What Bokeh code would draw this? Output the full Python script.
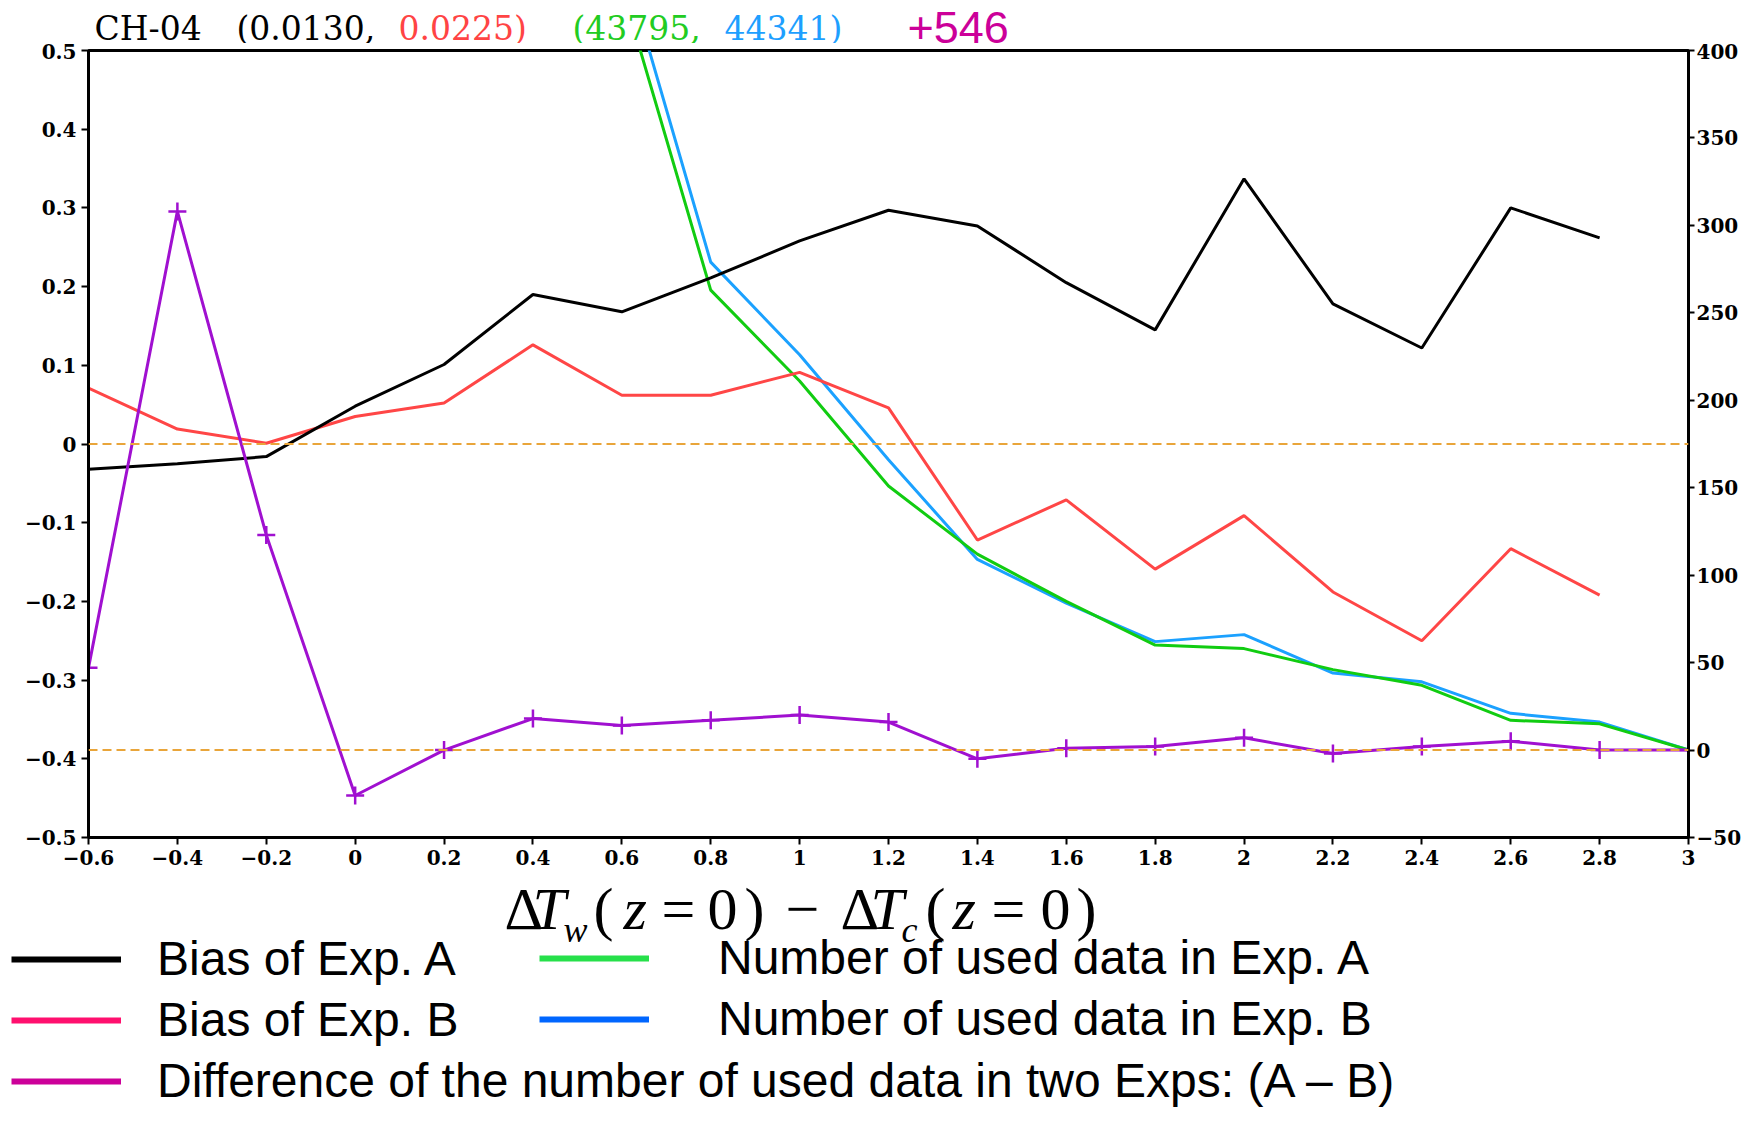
from bokeh.plotting import figure
from bokeh.layouts import column
from bokeh.models import Range1d, LinearAxis, FixedTicker, Span, Label, Legend, LegendItem
from bokeh.embed import file_html
from bokeh.resources import INLINE

nan = float("nan")

# ---------------- data ----------------
x_bins = [-0.6, -0.4, -0.2, 0.0, 0.2, 0.4, 0.6, 0.8, 1.0, 1.2, 1.4, 1.6, 1.8, 2.0, 2.2, 2.4, 2.6, 2.8, 3.0]

bias_a = [-0.032, -0.025, -0.016, 0.048, 0.101, 0.190, 0.168, 0.211, 0.258, 0.297,
          0.277, 0.205, 0.145, 0.337, 0.178, 0.122, 0.300, 0.262, nan]
bias_b = [0.071, 0.019, 0.001, 0.035, 0.052, 0.126, 0.062, 0.062, 0.091, 0.046,
          -0.122, -0.071, -0.159, -0.091, -0.188, -0.250, -0.133, -0.192, nan]

count_a = [nan, nan, nan, nan, nan, nan, 436, 263, 211, 151, 112, 85, 60, 58, 46, 37, 17, 15, 0]
count_b = [nan, nan, nan, nan, nan, nan, 454, 279, 226, 166, 109, 84, 62, 66, 44, 39, 21, 16, 0]
count_diff = [47, 308, 123, -26, 0, 18, 14, 17, 20, 16, -5, 1, 2, 7, -2, 2, 5, 0, 0]

x_ticks = [-0.6, -0.4, -0.2, 0.0, 0.2, 0.4, 0.6, 0.8, 1.0, 1.2, 1.4, 1.6, 1.8, 2.0, 2.2, 2.4, 2.6, 2.8, 3.0]
x_tick_labels = ["\u22120.6", "\u22120.4", "\u22120.2", "0", "0.2", "0.4", "0.6", "0.8", "1", "1.2",
                 "1.4", "1.6", "1.8", "2", "2.2", "2.4", "2.6", "2.8", "3"]
left_ticks = [-0.5, -0.4, -0.3, -0.2, -0.1, 0.0, 0.1, 0.2, 0.3, 0.4, 0.5]
left_tick_labels = ["\u22120.5", "\u22120.4", "\u22120.3", "\u22120.2", "\u22120.1", "0",
                    "0.1", "0.2", "0.3", "0.4", "0.5"]
right_ticks = [-50, 0, 50, 100, 150, 200, 250, 300, 350, 400]
right_tick_labels = ["\u221250", "0", "50", "100", "150", "200", "250", "300", "350", "400"]

title_parts = ["CH-04", "(0.0130,", "0.0225)", "(43795,", "44341)", "+546"]
legend_labels = ["Bias of Exp. A", "Bias of Exp. B",
                 "Difference of the number of used data in two Exps: (A \u2013 B)",
                 "Number of used data in Exp. A", "Number of used data in Exp. B"]

W = 1744
H_TOP, H_MAIN, H_BOT = 43, 829, 236
BASE_SHIFT = 0.34   # measured offset between requested and drawn alphabetic baseline (in em)


def blank(h):
    f = figure(width=W, height=h, x_range=Range1d(0, W), y_range=Range1d(h, 0),
               x_axis_type=None, y_axis_type=None, frame_align=False,
               output_backend="svg", toolbar_location=None, min_border=0,
               background_fill_color="white", border_fill_color="white")
    f.grid.visible = False
    f.outline_line_color = None
    return f


# ---------------- title strip ----------------
top = blank(H_TOP)
title_colors = ["black", "black", "#FF4444", "#22CC22", "#1E9FFF", "#CC0099"]
title_x = [94, 236, 398, 572, 724, 907]
for txt, col, xx in zip(title_parts, title_colors, title_x):
    big = txt.startswith("+")
    fs = 45 if big else 33
    base = 42 if big else 39
    top.add_layout(Label(x=xx, y=base - BASE_SHIFT * fs, text=txt, text_color=col,
                         text_font="Liberation Sans" if big else "DejaVu Serif",
                         text_font_size=f"{fs}px",
                         text_baseline="alphabetic", text_align="left"))

# ---------------- main chart ----------------
p = figure(width=W, height=H_MAIN, x_range=Range1d(-0.6, 3.0), y_range=Range1d(-0.5, 0.5),
           output_backend="svg", toolbar_location=None, frame_align=False,
           min_border_left=88, min_border_right=54, min_border_top=7, min_border_bottom=35,
           background_fill_color="white", border_fill_color="white")
p.extra_y_ranges = {"right": Range1d(-50, 400)}
p.xgrid.visible = False
p.ygrid.visible = False
p.outline_line_color = "black"
p.outline_line_width = 3

right_axis = LinearAxis(y_range_name="right")
p.add_layout(right_axis, "right")

p.xaxis[0].ticker = FixedTicker(ticks=x_ticks)
p.xaxis[0].major_label_overrides = dict(zip(x_ticks, x_tick_labels))
p.yaxis[0].ticker = FixedTicker(ticks=left_ticks)
p.yaxis[0].major_label_overrides = dict(zip(left_ticks, left_tick_labels))
right_axis.ticker = FixedTicker(ticks=right_ticks)
right_axis.major_label_overrides = dict(zip(right_ticks, right_tick_labels))

for ax in [p.xaxis[0], p.yaxis[0], right_axis]:
    ax.axis_line_width = 3
    ax.axis_line_color = "black"
    ax.major_tick_line_width = 2
    ax.major_tick_out = 7
    ax.major_tick_in = 0
    ax.minor_tick_line_color = None
    ax.major_label_text_font = "DejaVu Serif"
    ax.major_label_text_font_style = "bold"
    ax.major_label_text_font_size = "20px"
    ax.major_label_text_color = "black"
    ax.major_label_standoff = 5
p.xaxis[0].major_label_standoff = 5
right_axis.major_tick_out = 6
right_axis.major_label_standoff = 2

orange = "#E9A53A"
p.add_layout(Span(location=0, dimension="width", line_color=orange, line_dash="9 5", line_width=2))
p.add_layout(Span(location=0, dimension="width", line_color=orange, line_dash="9 5", line_width=2,
                  y_range_name="right"))

p.line(x_bins, count_b, y_range_name="right", line_color="#1BA1FF", line_width=3)
p.line(x_bins, count_a, y_range_name="right", line_color="#11CC11", line_width=3)
p.line(x_bins, bias_b, line_color="#FF4646", line_width=3)
p.line(x_bins, bias_a, line_color="black", line_width=3)
p.line(x_bins, count_diff, y_range_name="right", line_color="#A010D0", line_width=3)
p.scatter(x_bins, count_diff, y_range_name="right", marker="cross", size=18,
          line_color="#A010D0", line_width=2.5)

# ---------------- bottom strip: x-axis title + legend ----------------
bot = blank(H_BOT)
xl_base = 57
xl_pieces = [
    ("\u0394", 504, 0, "normal", 60),
    ("T", 532, 0, "italic", 60),
    ("w", 563, 13, "italic", 36),
    ("(", 593, 0, "normal", 60),
    ("z", 623, 0, "italic", 60),
    ("=", 661, 0, "normal", 60),
    ("0", 707, 0, "normal", 60),
    (")", 744, 0, "normal", 60),
    ("\u2212", 785, 0, "normal", 60),
    ("\u0394", 840, 0, "normal", 60),
    ("T", 870, 0, "italic", 60),
    ("c", 901, 13, "italic", 36),
    ("(", 925, 0, "normal", 60),
    ("z", 952, 0, "italic", 60),
    ("=", 991, 0, "normal", 60),
    ("0", 1040, 0, "normal", 60),
    (")", 1076, 0, "normal", 60),
]
for txt, xx, dy, style, fs in xl_pieces:
    bot.add_layout(Label(x=xx, y=xl_base + dy - BASE_SHIFT * fs, text=txt,
                         text_font="Liberation Serif", text_font_style=style,
                         text_font_size=f"{fs}px", text_color="black",
                         text_baseline="alphabetic", text_align="left"))

leg_colors = ["black", "#FF0F6E", "#CC0099", "#26E04A", "#0066FF"]
dummies = [bot.line(x=[0], y=[0], line_color=c, line_width=6) for c in leg_colors]

common = dict(orientation="vertical", glyph_width=110, glyph_height=48, label_height=48,
              spacing=6, padding=0, margin=0, border_line_color=None,
              background_fill_alpha=0, label_text_font="Liberation Sans",
              label_text_font_size="48px", label_text_color="black")
leg_left = Legend(items=[LegendItem(label=legend_labels[i], renderers=[dummies[i]]) for i in (0, 1, 2)],
                  location=(11, 0), label_standoff=36, **common)
leg_right = Legend(items=[LegendItem(label=legend_labels[i], renderers=[dummies[i]]) for i in (3, 4)],
                   location=(539, 62), label_standoff=69, **common)
bot.add_layout(leg_left)
bot.add_layout(leg_right)

layout = column(top, p, bot, spacing=0)
open("out.html", "w").write(file_html(layout, INLINE))
